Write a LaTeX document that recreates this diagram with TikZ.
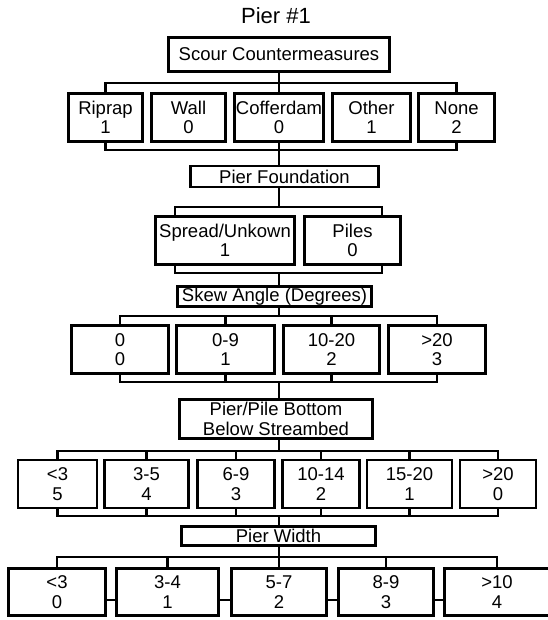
\documentclass[tikz,border=0pt]{standalone}
\usepackage{fontspec}
\setmainfont{Liberation Sans}

\begin{document}
\begin{tikzpicture}[x=1pt, y=-1pt, font=\fontsize{18.5}{19.5}\selectfont,
  box/.style={draw, line width=2.6pt, align=center, inner sep=0pt, minimum height=48pt},
  hdr/.style={box, minimum height=20pt},
  link/.style={line width=2.3pt}]
\useasboundingbox (0,0) rectangle (547,620);
\node[font=\fontsize{22}{24}\selectfont] (title) at (276,16) {Pier \#1};
\coordinate (spine) at (279,0);
% scour countermeasures
\node[hdr, minimum width=221pt, minimum height=34pt] (scour) at (279,54.5) {Scour Countermeasures};
\node[box, minimum width=74pt] (riprap) at (105.5,117.5) {Riprap\\1};
\node[box, minimum width=74pt] (wall) at (188.5,117.5) {Wall\\0};
\node[box, minimum width=89pt] (coffer) at (279,117.5) {Cofferdam\\0};
\node[box, minimum width=78pt] (other) at (371.5,117.5) {Other\\1};
\node[box, minimum width=76pt] (none) at (456.5,117.5) {None\\2};
\coordinate (b1) at (0,83); \coordinate (b1b) at (0,150);
\draw[link] (scour.south -| spine) -- (spine |- b1);
\draw[link] (riprap.north) -- (riprap |- b1) -- (none |- b1) -- (none.north);
\draw[link] (riprap.south) -- (riprap |- b1b) -- (none |- b1b) -- (none.south);
\draw[link] (coffer.north) -- (coffer |- b1);
\draw[link] (coffer.south) -- (coffer |- b1b);
% foundation
\node[hdr, minimum width=188pt, minimum height=21pt] (found) at (284.5,176.5) {Pier Foundation};
\node[box, minimum width=139pt] (spread) at (225,240.5) {Spread/Unkown\\1};
\node[box, minimum width=96pt] (piles) at (352.5,240.5) {Piles\\0};
\coordinate (fl) at (175,207); \coordinate (fr) at (382,273);
\draw[link] (spine |- b1b) -- (found.north -| spine);
\draw[link] (found.south -| spine) -- (spine |- fl);
\draw[link] (fl |- spread.north) -- (fl) -- (fr |- fl) -- (fr |- piles.north);
\draw[link] (fl |- spread.south) -- (fl |- fr) -- (fr) -- (fr |- piles.south);
% skew angle
\node[hdr, minimum width=194pt] (skew) at (274.5,296.5) {Skew Angle (Degrees)};
\node[box, minimum width=97pt] (s1) at (120,349.5) {0\\0};
\node[box, minimum width=98pt] (s2) at (225.5,349.5) {0-9\\1};
\node[box, minimum width=96pt] (s3) at (331.5,349.5) {10-20\\2};
\node[box, minimum width=97pt] (s4) at (437,349.5) {>20\\3};
\coordinate (b3) at (0,316); \coordinate (b3b) at (0,382);
\draw[link] (spine |- fr) -- (skew.north -| spine);
\draw[link] (skew.south -| spine) -- (spine |- b3);
\draw[link] (s1.north) -- (s1 |- b3) -- (s4 |- b3) -- (s4.north);
\draw[link] (s1.south) -- (s1 |- b3b) -- (s4 |- b3b) -- (s4.south);
\foreach \p in {s2,s3} {
  \draw[link] (\p.north) -- (\p |- b3);
  \draw[link] (\p.south) -- (\p |- b3b);
}
% pier/pile bottom
\node[hdr, minimum width=193pt, minimum height=39pt] (depth) at (276,419) {Pier/Pile Bottom\\Below Streambed};
\node[box, minimum width=79pt] (d1) at (57.5,484) {<3\\5};
\node[box, minimum width=84pt] (d2) at (146.5,484) {3-5\\4};
\node[box, minimum width=77pt] (d3) at (236,484) {6-9\\3};
\node[box, minimum width=77pt] (d4) at (321,484) {10-14\\2};
\node[box, minimum width=85pt] (d5) at (409.5,484) {15-20\\1};
\node[box, minimum width=76pt] (d6) at (498,484) {>20\\0};
\coordinate (b4) at (0,451); \coordinate (b4b) at (0,516);
\draw[link] (spine |- b3b) -- (depth.north -| spine);
\draw[link] (depth.south -| spine) -- (spine |- b4);
\draw[link] (d1.north) -- (d1 |- b4) -- (d6 |- b4) -- (d6.north);
\draw[link] (d1.south) -- (d1 |- b4b) -- (d6 |- b4b) -- (d6.south);
\foreach \p in {d2,d3,d4,d5} {
  \draw[link] (\p.north) -- (\p |- b4);
  \draw[link] (\p.south) -- (\p |- b4b);
}
% pier width
\node[hdr, minimum width=194pt, minimum height=19pt] (width) at (278.5,536) {Pier Width};
\node[box, minimum width=97pt, minimum height=47pt] (w1) at (57,592) {<3\\0};
\node[box, minimum width=102pt, minimum height=47pt] (w2) at (167.5,592) {3-4\\1};
\node[box, minimum width=95pt, minimum height=47pt] (w3) at (279,592) {5-7\\2};
\node[box, minimum width=95pt, minimum height=47pt] (w4) at (386,592) {8-9\\3};
\node[box, minimum width=105pt, minimum height=47pt] (w5) at (497,592) {>10\\4};
\coordinate (b5) at (0,557); \coordinate (wm) at (0,600);
\draw[link] (spine |- b4b) -- (width.north -| spine);
\draw[link] (width.south -| spine) -- (spine |- b5);
\draw[link] (w1.north) -- (w1 |- b5) -- (w5 |- b5) -- (w5.north);
\foreach \p in {w2,w3,w4} \draw[link] (\p.north) -- (\p |- b5);
\foreach \a/\b in {w1/w2, w2/w3, w3/w4, w4/w5} \draw[link] (\a.east |- wm) -- (\b.west |- wm);
\end{tikzpicture}
\end{document}
